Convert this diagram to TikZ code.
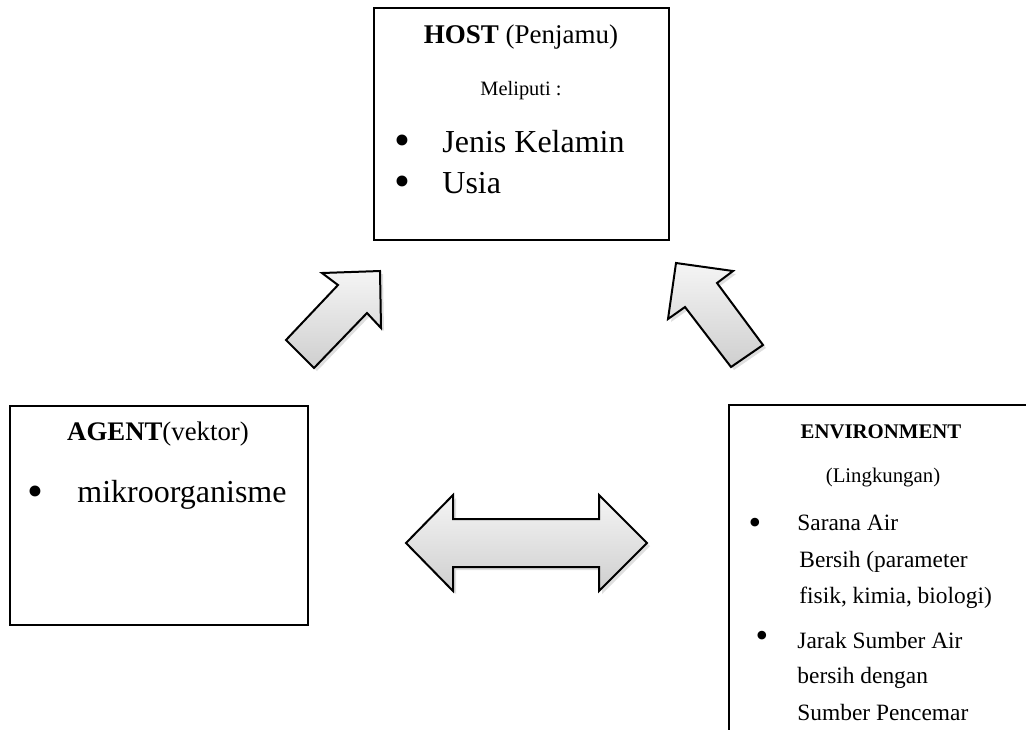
\documentclass[tikz,border=0pt]{standalone}
\usepackage{fontspec}
\setmainfont{Liberation Serif}
\usetikzlibrary{shadows}
\begin{document}
\begin{tikzpicture}[x=0.5pt,y=-0.5pt,
    box/.style={draw, line width=1pt, anchor=north west, inner sep=0pt},
    txt/.style={inner sep=0pt, anchor=base west},
    dot/.style={inner sep=0pt, anchor=base},
    blockarrow/.style={draw, line width=1pt, line join=miter, top color=gray!8, bottom color=gray!38,
      drop shadow={opacity=0.25, shadow xshift=1.5pt, shadow yshift=-1.5pt}}]
  \useasboundingbox (0,0) rectangle (1026,729);
  \clip (0,0) rectangle (1026,729);
  % boxes
  \node[box, minimum width=147.5pt, minimum height=116pt] (host) at (373,7) {};
  \node[box, minimum width=149pt, minimum height=109.5pt] (agent) at (9,405) {};
  \node[box, minimum width=160pt, minimum height=180pt] (env) at (728,404) {};
  % host text
  \node[txt, anchor=base] (hosttitle) at (521,43) {\fontsize{13.5}{16}\selectfont\textbf{HOST} (Penjamu)};
  \node[txt, anchor=base] (meliputi) at (521,95) {\fontsize{10.2}{12}\selectfont Meliputi :};
  \node[dot] (hostb1) at (402,155) {\fontsize{22.7}{26}\selectfont •};
  \node[txt] (jenis) at (442,152) {\fontsize{16}{19}\selectfont Jenis Kelamin};
  \node[dot] (hostb2) at (402,196) {\fontsize{22.7}{26}\selectfont •};
  \node[txt] (usia) at (442,193) {\fontsize{16}{19}\selectfont Usia};
  % agent text
  \node[txt, anchor=base] (agenttitle) at (158,440) {\fontsize{13.4}{16}\selectfont\textbf{AGENT}(vektor)};
  \node[dot] (agentb1) at (35,506) {\fontsize{22.7}{26}\selectfont •};
  \node[txt] (mikro) at (77,502) {\fontsize{16}{19}\selectfont mikroorganisme};
  % environment text
  \node[txt, anchor=base] (envtitle) at (881,438) {\fontsize{10.4}{12}\selectfont\textbf{ENVIRONMENT}};
  \node[txt, anchor=base] (lingkungan) at (883,482) {\fontsize{10.4}{12}\selectfont (Lingkungan)};
  \node[dot] (envb1) at (755,534) {\fontsize{18}{21}\selectfont •};
  \node[txt] (sarana) at (797,530) {\fontsize{11.7}{14}\selectfont Sarana Air};
  \node[txt] (bersih) at (799,567) {\fontsize{11.7}{14}\selectfont Bersih (parameter};
  \node[txt] (fisik) at (799,603) {\fontsize{11.7}{14}\selectfont fisik, kimia, biologi)};
  \node[dot] (envb2) at (762,647) {\fontsize{18}{21}\selectfont •};
  \node[txt] (jarak) at (797,648) {\fontsize{11.7}{14}\selectfont Jarak Sumber Air};
  \node[txt] (dengan) at (797,683) {\fontsize{11.7}{14}\selectfont bersih dengan};
  \node[txt] (pencemar) at (797,720) {\fontsize{11.7}{14}\selectfont Sumber Pencemar};
  % block arrows
  \draw[blockarrow] (286,340) -- (338,285) -- (322,273) -- (380,271) -- (381,328) -- (367,313) -- (314,368) -- cycle;
  \draw[blockarrow] (676,263) -- (733,271) -- (717,283) -- (763,345) -- (731,367) -- (685,307) -- (668,319) -- cycle;
  \draw[blockarrow] (406,543) -- (453,495) -- (453,519) -- (599,519) -- (599,495) -- (647,543)
    -- (599,591) -- (599,567) -- (453,567) -- (453,591) -- cycle;
\end{tikzpicture}
\end{document}
